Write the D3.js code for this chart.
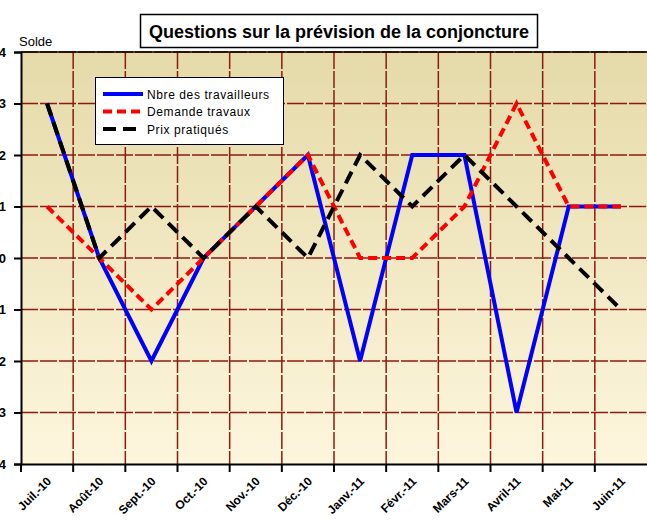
<!DOCTYPE html>
<html>
<head>
<meta charset="utf-8">
<script src="https://cdn.jsdelivr.net/npm/d3@7"></script>
<style>
  body { margin: 0; background: #fff; }
  svg { display: block; font-family: "Liberation Sans", Arial, sans-serif; }
</style>
</head>
<body>
<div id="chart"></div>
<script>
const width = 647;
const height = 523;

// Data.
const months = ["Juil.-10", "Août-10", "Sept.-10", "Oct.-10", "Nov.-10", "Déc.-10",
  "Janv.-11", "Févr.-11", "Mars-11", "Avril-11", "Mai-11", "Juin-11"];
const travailleurs = [3, 0, -2, 0, 1, 2, -2, 2, 2, -3, 1, 1];
const demande = [1, 0, -1, 0, 1, 2, 0, 0, 1, 3, 1, 1];
const prix = [3, 0, 1, 0, 1, 0, 2, 1, 2, 1, 0, -1];
const yTicks = [4, 3, 2, 1, 0, -1, -2, -3, -4];

const series = [
  { name: "Nbre des travailleurs", values: travailleurs, colour: "#0000ff", dash: null },
  { name: "Demande travaux", values: demande, colour: "#ff0000", dash: "9,5" },
  { name: "Prix pratiqués", values: prix, colour: "#000000", dash: "13,7" }
];

const margin = { top: 52, right: 0, bottom: 59, left: 21 };

const x = d3.scaleBand()
  .domain(months)
  .range([margin.left, width - margin.right]);

const y = d3.scaleLinear()
  .domain([-4, 4])
  .range([height - margin.bottom, margin.top]);

const svg = d3.select("#chart")
  .append("svg")
  .attr("width", width)
  .attr("height", height);

// Plot background gradient.
const grad = svg.append("defs")
  .append("linearGradient")
  .attr("id", "bg")
  .attr("x1", 0).attr("y1", 0)
  .attr("x2", 0).attr("y2", 1);
grad.append("stop").attr("offset", "0%").attr("stop-color", "#e5daa8");
grad.append("stop").attr("offset", "100%").attr("stop-color", "#fdf6dd");

svg.append("rect")
  .attr("x", margin.left)
  .attr("y", margin.top)
  .attr("width", width - margin.left - margin.right)
  .attr("height", y(-4) - y(4))
  .attr("fill", "url(#bg)");

// Grid.
const grid = svg.append("g")
  .attr("stroke", "#8e1b12")
  .attr("stroke-width", 1.5)
  .attr("stroke-dasharray", "17,2");

grid.selectAll(".h")
  .data(yTicks.filter(d => d > -4))
  .join("line")
  .attr("x1", margin.left)
  .attr("x2", width)
  .attr("y1", d => y(d))
  .attr("y2", d => y(d));

grid.selectAll(".v")
  .data(months.slice(1))
  .join("line")
  .attr("x1", d => x(d))
  .attr("x2", d => x(d))
  .attr("y1", margin.top)
  .attr("y2", y(-4));

// Top border of plot.
svg.append("line")
  .attr("x1", margin.left)
  .attr("x2", width)
  .attr("y1", margin.top)
  .attr("y2", margin.top)
  .attr("stroke", "#000")
  .attr("stroke-width", 1.5);

// Axes.
const xAxis = svg.append("g")
  .attr("transform", `translate(0,${y(-4)})`)
  .call(d3.axisBottom(x).tickSize(0).tickFormat(""));
xAxis.select(".domain").attr("stroke-width", 2);

svg.append("g")
  .selectAll("line")
  .data(months)
  .join("line")
  .attr("x1", d => x(d))
  .attr("x2", d => x(d))
  .attr("y1", y(-4))
  .attr("y2", y(-4) + 8)
  .attr("stroke", "#000")
  .attr("stroke-width", 2);

svg.append("g")
  .selectAll("text")
  .data(months)
  .join("text")
  .attr("transform", d => `translate(${x(d) + x.bandwidth() / 2 + 5},${y(-4) + 18}) rotate(-45)`)
  .attr("text-anchor", "end")
  .attr("font-size", 12)
  .attr("font-weight", "bold")
  .text(d => d);

const yAxis = svg.append("g")
  .attr("transform", `translate(${margin.left},0)`)
  .call(d3.axisLeft(y).tickValues(yTicks).tickSize(7).tickPadding(8));
yAxis.select(".domain").attr("stroke-width", 2);
yAxis.selectAll(".tick line").attr("stroke-width", 2);
yAxis.selectAll(".tick text")
  .attr("font-size", 13)
  .attr("font-weight", "bold")
  .attr("font-family", "Liberation Sans, Arial, sans-serif")
  .attr("fill", "#000");

svg.append("text")
  .attr("x", 19)
  .attr("y", 46)
  .attr("font-size", 13)
  .text("Solde");

// Lines.
const line = d3.line()
  .x((d, i) => x(months[i]) + x.bandwidth() / 2)
  .y(d => y(d));

svg.append("g")
  .selectAll("path")
  .data(series)
  .join("path")
  .attr("d", d => line(d.values))
  .attr("fill", "none")
  .attr("stroke", d => d.colour)
  .attr("stroke-width", 4)
  .attr("stroke-dasharray", d => d.dash);

// Title.
svg.append("rect")
  .attr("x", 140.5)
  .attr("y", 14.5)
  .attr("width", 397)
  .attr("height", 33)
  .attr("fill", "#fff")
  .attr("stroke", "#000")
  .attr("stroke-width", 1.5);

svg.append("text")
  .attr("x", 339)
  .attr("y", 37.5)
  .attr("text-anchor", "middle")
  .attr("font-size", 18)
  .attr("font-weight", "bold")
  .text("Questions sur la prévision de la conjoncture");

// Legend.
const legend = svg.append("g");
legend.append("rect")
  .attr("x", 95.5)
  .attr("y", 77.5)
  .attr("width", 188)
  .attr("height", 67)
  .attr("fill", "#fff")
  .attr("stroke", "#000")
  .attr("stroke-width", 1);

const item = legend.selectAll("g")
  .data(series)
  .join("g")
  .attr("transform", (d, i) => `translate(103,${94 + i * 17.5})`);

item.append("line")
  .attr("x1", 0)
  .attr("x2", 40)
  .attr("stroke", d => d.colour)
  .attr("stroke-width", 4)
  .attr("stroke-dasharray", d => d.dash);

item.append("text")
  .attr("x", 44)
  .attr("y", 4.5)
  .attr("font-size", 12)
  .attr("letter-spacing", 0.6)
  .text(d => d.name);
</script>
</body>
</html>
